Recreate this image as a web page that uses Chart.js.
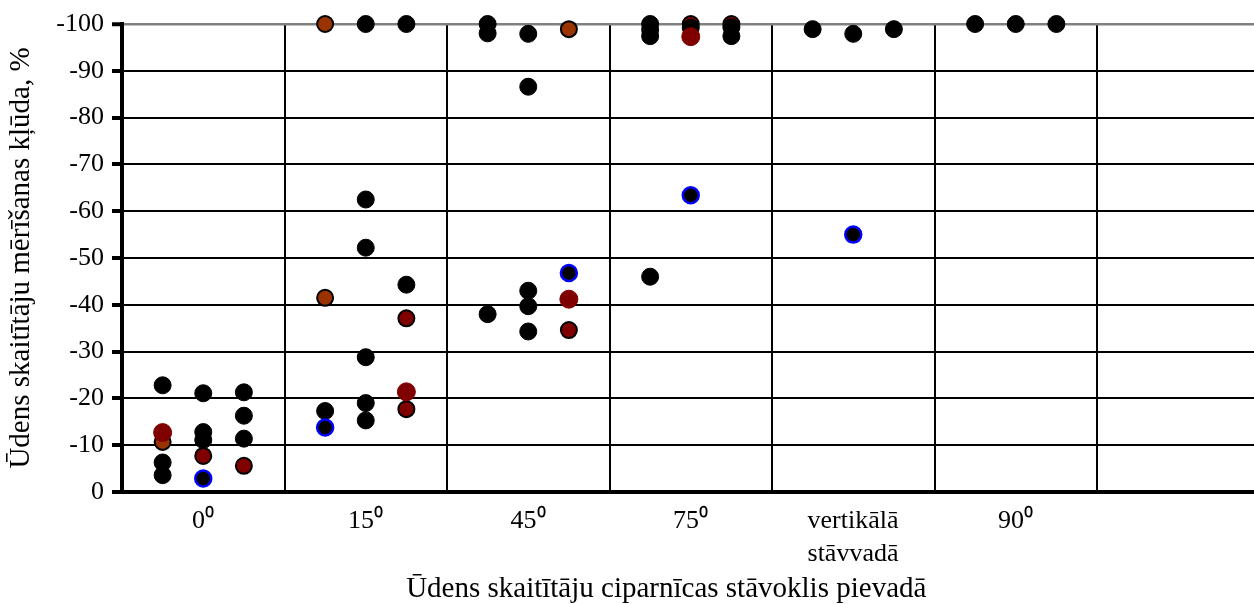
<!DOCTYPE html>
<html>
<head>
<meta charset="utf-8">
<script src="https://cdn.jsdelivr.net/npm/chart.js@4"></script>
<style>
  html, body { margin: 0; padding: 0; background: #fff; overflow: hidden; }
  canvas { display: block; }
</style>
</head>
<body>
<canvas id="chart" width="1254" height="604"></canvas>
<script>
// x categories (the last one is empty in the original)
const categories = ["0⁰", "15⁰", "45⁰", "75⁰", ["vertikālā", "stāvvadā"], "90⁰", ""];

// each point: [category index, slot in category (1..3), error %]
const blackPoints = [
  [0, 1, -22.8], [0, 1, -6.3], [0, 1, -3.6],
  [0, 2, -21.1], [0, 2, -12.8], [0, 2, -11.1],
  [0, 3, -21.3], [0, 3, -16.3], [0, 3, -11.4],
  [1, 1, -17.3],
  [1, 2, -100], [1, 2, -62.5], [1, 2, -52.2], [1, 2, -28.8], [1, 2, -19.0], [1, 2, -15.3],
  [1, 3, -100], [1, 3, -44.3],
  [2, 1, -100], [2, 1, -98.0], [2, 1, -38.0],
  [2, 2, -97.9], [2, 2, -86.6], [2, 2, -43.0], [2, 2, -39.7], [2, 2, -34.3],
  [3, 1, -100], [3, 1, -97.4], [3, 1, -46.0],
  [3, 2, -99.2],
  [3, 3, -99.3], [3, 3, -97.4],
  [4, 1, -98.9], [4, 2, -97.9], [4, 3, -98.9],
  [5, 1, -100], [5, 2, -100], [5, 3, -100]
];
const orangePoints = [
  [0, 1, -10.7], [1, 1, -100], [1, 1, -41.5], [2, 3, -98.9], [3, 1, -98.7]
];
const darkRedRingPoints = [
  [0, 2, -7.7], [0, 3, -5.6], [1, 3, -37.1], [1, 3, -17.7], [2, 3, -34.6],
  [3, 2, -100], [3, 3, -100]
];
const darkRedPoints = [
  [0, 1, -12.7], [1, 3, -21.4], [2, 3, -41.2], [3, 2, -97.3]
];
const blueRingPoints = [
  [0, 2, -2.9], [1, 1, -13.8], [2, 3, -46.8], [3, 2, -63.4], [4, 2, -55.0]
];

const yMin = -100, yMax = 0, yStep = 10;

function toXY(list) {
  return list.map(p => ({ x: p[0] + p[1] * 0.25, y: p[2] }));
}

const serif = "'Liberation Serif', 'Times New Roman', serif";

// lower order = drawn on top
const datasets = [
  { label: "orange", data: toXY(orangePoints), backgroundColor: "#993300",
    borderColor: "#000", borderWidth: 2, pointRadius: 8, order: 5 },
  { label: "darkRedRing", data: toXY(darkRedRingPoints), backgroundColor: "#800000",
    borderColor: "#000", borderWidth: 2, pointRadius: 8, order: 4 },
  { label: "black", data: toXY(blackPoints), backgroundColor: "#000",
    borderColor: "#000", borderWidth: 1, pointRadius: 8.5, order: 3 },
  { label: "darkRed", data: toXY(darkRedPoints), backgroundColor: "#800000",
    borderColor: "#800000", borderWidth: 1, pointRadius: 9, order: 2 },
  { label: "blueRing", data: toXY(blueRingPoints), backgroundColor: "#000",
    borderColor: "#0000ff", borderWidth: 2.5, pointRadius: 8, order: 1 }
];
datasets.forEach(d => { d.clip = false; d.pointHoverRadius = d.pointRadius; });

new Chart(document.getElementById("chart"), {
  type: "scatter",
  data: { datasets },
  options: {
    responsive: false,
    animation: false,
    layout: { autoPadding: false, padding: { top: 24, right: 0, left: 0, bottom: 0 } },
    plugins: { legend: { display: false }, tooltip: { enabled: false } },
    scales: {
      x: {
        type: "linear",
        min: 0,
        max: (1254 - 122) / 162.5,
        afterBuildTicks: s => { s.ticks = categories.map((c, i) => ({ value: i })); },
        afterFit: s => { s.height = 112; },
        ticks: {
          autoSkip: false,
          maxRotation: 0,
          labelOffset: 81,
          padding: 13,
          color: "#000",
          font: { family: serif, size: 26, lineHeight: 1.25 },
          callback: v => categories[v]
        },
        grid: { color: "#000", lineWidth: 2, drawTicks: false },
        border: { color: "#000", width: 4 },
        title: {
          display: true,
          text: "Ūdens skaitītāju ciparnīcas stāvoklis pievadā\u00a0\u00a0\u00a0\u00a0\u00a0\u00a0",
          color: "#000",
          font: { family: serif, size: 29, lineHeight: 1.0 },
          padding: { top: 0, bottom: 0 }
        }
      },
      y: {
        min: yMin,
        max: yMax,
        reverse: true,
        afterFit: s => { s.width = 122; },
        ticks: {
          stepSize: yStep,
          padding: 8,
          color: "#000",
          font: { family: serif, size: 26 }
        },
        grid: {
          color: c => (c.tick && c.tick.value === yMin ? "#808080" : "#000"),
          lineWidth: c => (c.tick && c.tick.value === yMin ? 2.5 : 2),
          tickColor: "#000",
          tickWidth: 4,
          tickLength: 10
        },
        border: { color: "#000", width: 4 },
        title: {
          display: true,
          text: "Ūdens skaitītāju mērīšanas kļūda, %",
          color: "#000",
          font: { family: serif, size: 29 },
          padding: { top: 4, bottom: 0 }
        }
      }
    }
  }
});
</script>
</body>
</html>
